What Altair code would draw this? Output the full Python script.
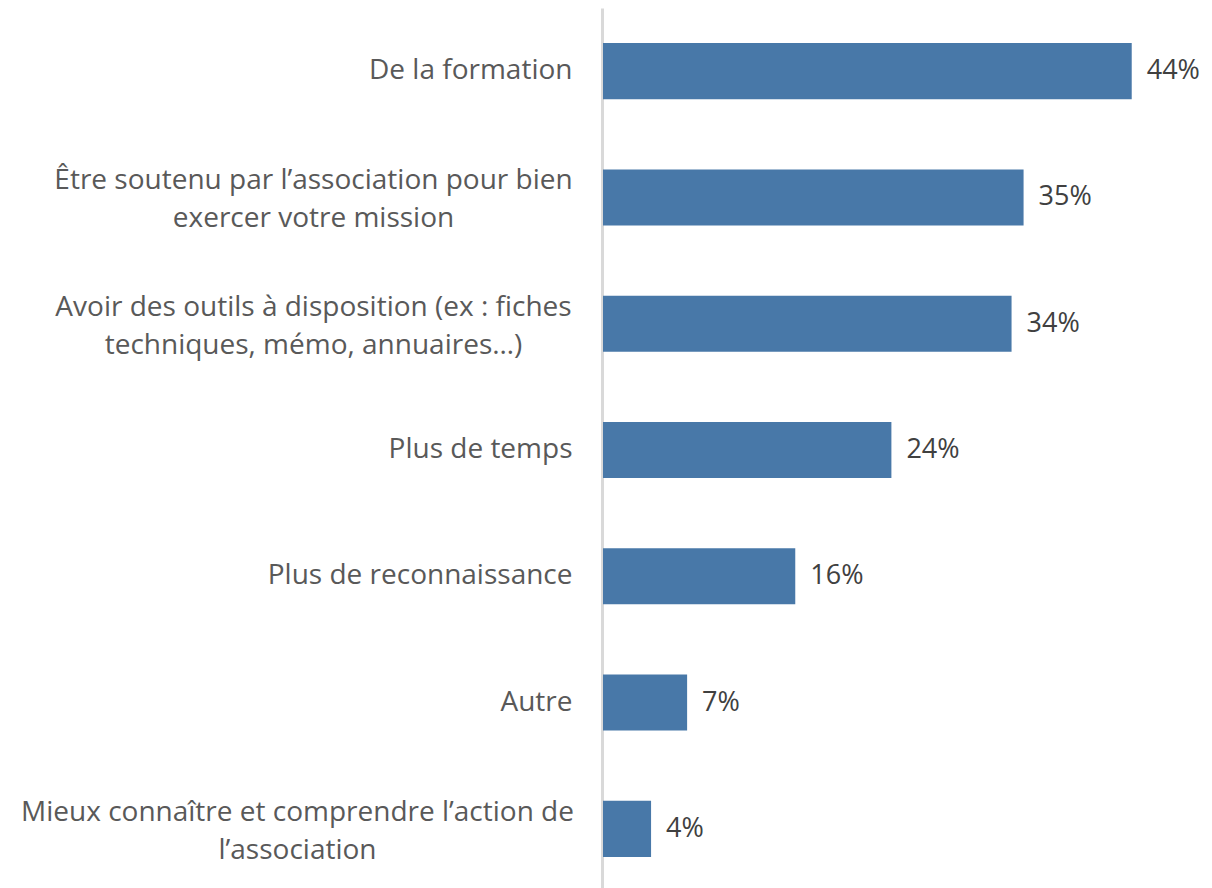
import altair as alt
import pandas as pd

categories = [
    "De la formation",
    "Être soutenu par l’association pour bien|exercer votre mission",
    "Avoir des outils à disposition (ex : fiches|techniques, mémo, annuaires…)",
    "Plus de temps",
    "Plus de reconnaissance",
    "Autre",
    "Mieux connaître et comprendre l’action de|l’association",
]
values = [44, 35, 34, 24, 16, 7, 4]
value_labels = ["44%", "35%", "34%", "24%", "16%", "7%", "4%"]

df = pd.DataFrame({"cat": categories, "val": values, "lab": value_labels})

FONT = "Open Sans"
MULTI = "indexof(datum.value, '|') >= 0"

y_enc = alt.Y(
    "cat:N",
    sort=None,
    title=None,
    scale=alt.Scale(paddingInner=0.556, paddingOuter=0.278),
    axis=alt.Axis(
        labelExpr="split(datum.label, '|')",
        labelAlign={"condition": {"test": MULTI, "value": "center"}, "value": "right"},
        labelPadding={"condition": [
            {"test": "indexof(datum.value, 'Mieux') >= 0", "value": 305},
            {"test": MULTI, "value": 289},
        ], "value": 30},
        labelOffset={"condition": {"test": MULTI, "value": -16}, "value": 0},
        labelFont=FONT,
        labelFontSize=28,
        labelColor="#595959",
        labelLineHeight=38,
        labelLimit=0,
        ticks=False,
        offset=1,
        domainColor="#d9d9d9",
        domainWidth=3,
    ),
)

x_enc = alt.X("val:Q", scale=alt.Scale(domain=[0, 48.6]), axis=None)

bars = alt.Chart(df).mark_bar(color="#4878a8").encode(x=x_enc, y=y_enc)
texts = alt.Chart(df).mark_text(
    align="left", baseline="middle", dx=15, font=FONT, fontSize=27, color="#404040"
).encode(x=x_enc, y=y_enc, text="lab:N")

chart = (
    (bars + texts)
    .properties(
        width=584,
        height=884,
        autosize=alt.AutoSizeParams(type="none"),
        padding={"left": 595, "top": 0, "right": 17, "bottom": 0},
    )
    .configure_view(stroke=None)
)

chart.save("out.html", embed_options={"renderer": "svg", "actions": False})
